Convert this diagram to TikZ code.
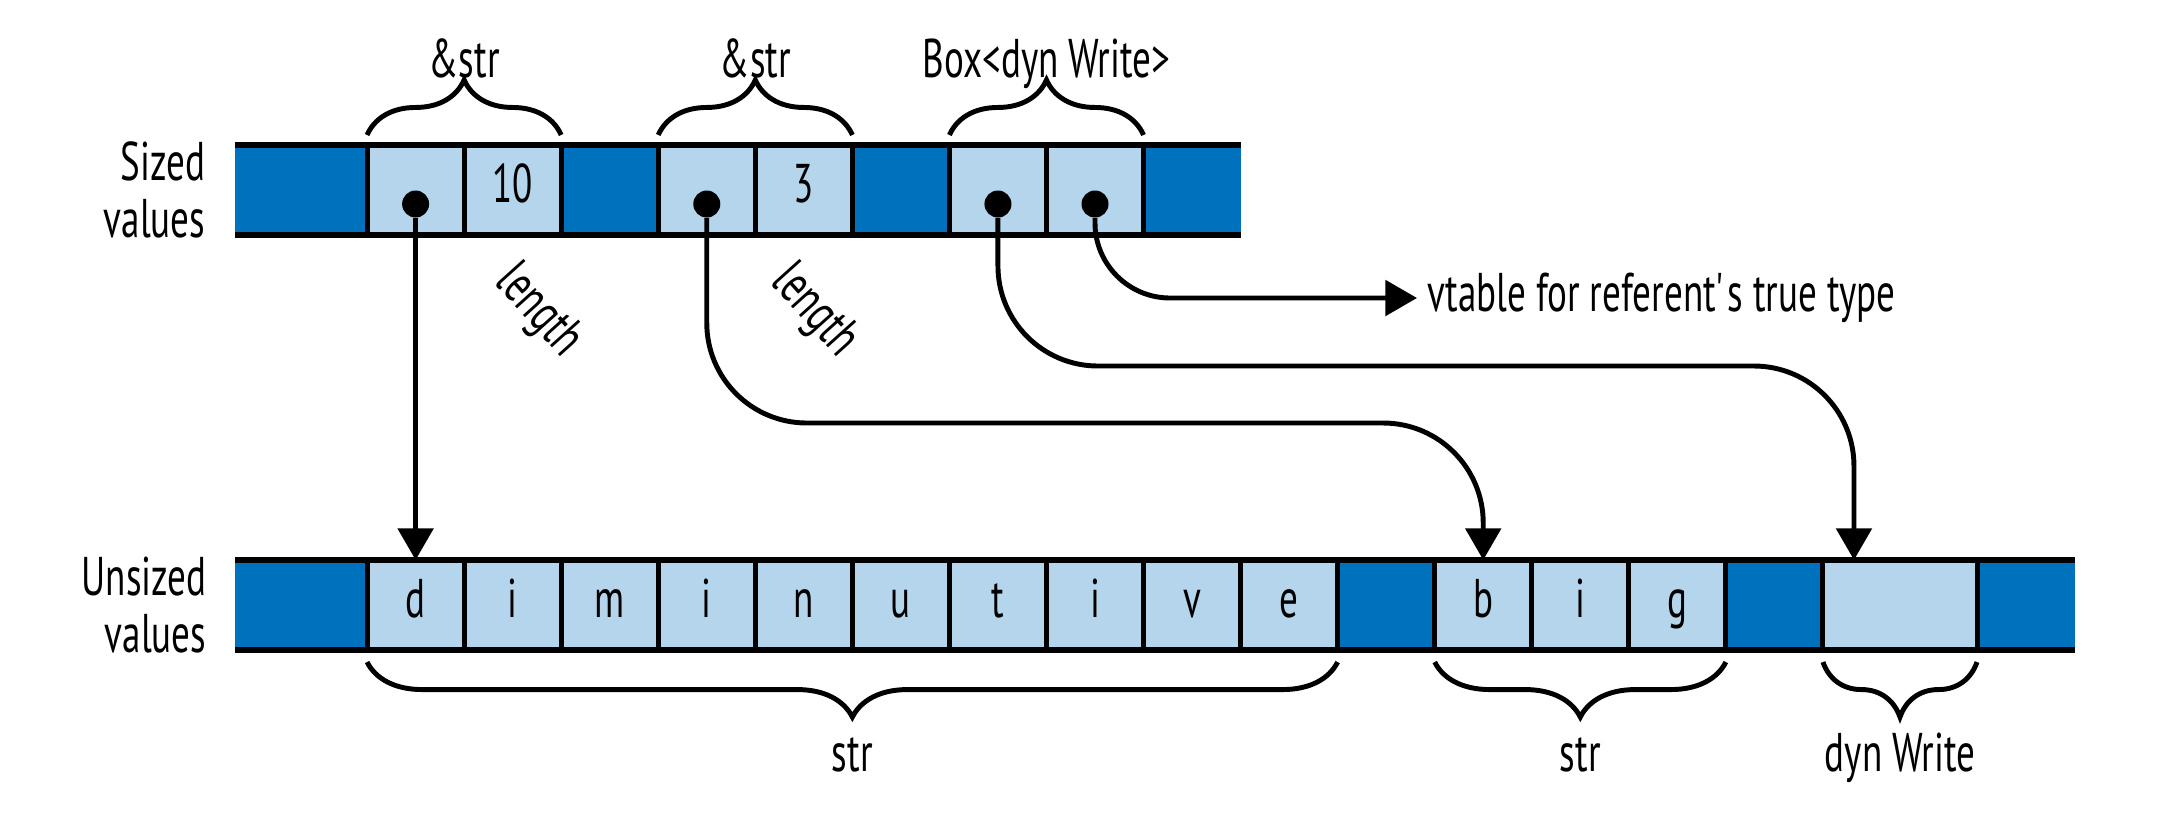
\documentclass[tikz,border=0pt]{standalone}
\usepackage{fontspec}
\setmainfont[FakeStretch=0.68]{PT Sans}
\usetikzlibrary{arrows.meta,positioning,calc,decorations.pathreplacing}
\definecolor{darkbl}{RGB}{0,113,188}
\definecolor{litebl}{RGB}{180,213,235}

\begin{document}
\begin{tikzpicture}[x=0.01cm,y=-0.01cm,>={Triangle[length=9pt,width=10pt]},
  font=\fontsize{15.5}{16}\selectfont,
  cell/.style={minimum width=0.97cm,minimum height=0.9cm,inner sep=0pt,outer sep=0pt,text height=0.7em,text depth=0pt},
  lite/.style={cell,fill=litebl},
  dark/.style={cell,fill=darkbl},
  sep/.style={line width=1.4pt},
  rail/.style={line width=1.8pt},
  ptr/.style={->,line width=1.4pt},
  dot/.style={circle,fill,inner sep=0pt,minimum size=0.27cm},
  lbl/.style={text height=0.72em,text depth=0.2em},
  brc/.style={decorate,decoration={brace,amplitude=0.55cm},line width=1.4pt},
  brcdown/.style={decorate,decoration={brace,amplitude=0.55cm,mirror},line width=1.4pt}]
\useasboundingbox (0,0) rectangle (2158,814);
% sized values
\node[dark,minimum width=1.32cm,anchor=west] (s0) at (235,190) {};
\node[lite,right=0pt of s0] (s1) {};
\node[lite,right=0pt of s1] (s2) {10};
\node[dark,right=0pt of s2] (s3) {};
\node[lite,right=0pt of s3] (s4) {};
\node[lite,right=0pt of s4] (s5) {3};
\node[dark,right=0pt of s5] (s6) {};
\node[lite,right=0pt of s6] (s7) {};
\node[lite,right=0pt of s7] (s8) {};
\node[dark,right=0pt of s8] (s9) {};
\foreach \i in {1,...,9} \draw[sep] (s\i.north west) -- (s\i.south west);
\draw[rail] (s0.north west) -- (s9.north east);
\draw[rail] (s0.south west) -- (s9.south east);
\node[anchor=east,align=right,inner sep=0pt] (sl) at (206,190) {Sized\\values};
\foreach \i in {1,4,7,8} \node[dot] (p\i) at ([yshift=-0.14cm]s\i.center) {};
\draw[brc] ([yshift=0.1cm]s1.north west) -- ([yshift=0.1cm]s2.north east) node[lbl,midway,above=0.36cm] (b1) {\&str};
\draw[brc] ([yshift=0.1cm]s4.north west) -- ([yshift=0.1cm]s5.north east) node[lbl,midway,above=0.36cm] (b2) {\&str};
\draw[brc] ([yshift=0.1cm]s7.north west) -- ([yshift=0.1cm]s8.north east) node[lbl,midway,above=0.36cm] (b3) {Box<dyn Write>};
\node[rotate=-48] (ln1) at (538,312) {length};
\node[rotate=-48] (ln2) at (814,312) {length};
% unsized values
\node[dark,minimum width=1.32cm,anchor=west] (u0) at (235,605) {};
\foreach \c [count=\i,evaluate=\i as \j using int(\i-1)] in {d,i,m,i,n,u,t,i,v,e}
  \node[lite,right=0pt of u\j] (u\i) {\c};
\node[dark,right=0pt of u10] (u11) {};
\node[lite,right=0pt of u11] (u12) {b};
\node[lite,right=0pt of u12] (u13) {i};
\node[lite,right=0pt of u13] (u14) {g};
\node[dark,right=0pt of u14] (u15) {};
\node[lite,minimum width=1.54cm,right=0pt of u15] (u16) {};
\node[dark,minimum width=0.98cm,right=0pt of u16] (u17) {};
\foreach \i in {1,...,17} \draw[sep] (u\i.north west) -- (u\i.south west);
\draw[rail] (u0.north west) -- (u17.north east);
\draw[rail] (u0.south west) -- (u17.south east);
\node[anchor=east,align=right,inner sep=0pt] (ul) at (207,605) {Unsized\\values};
\draw[brcdown] ([yshift=-0.12cm]u1.south west) -- ([yshift=-0.12cm]u10.south east) node[lbl,midway,below=0.7cm] (d1) {str};
\draw[brcdown] ([yshift=-0.12cm]u12.south west) -- ([yshift=-0.12cm]u14.south east) node[lbl,midway,below=0.7cm] (d2) {str};
\draw[brcdown] ([yshift=-0.12cm]u16.south west) -- ([yshift=-0.12cm]u16.south east) node[lbl,midway,below=0.7cm] (d3) {dyn Write};
% pointers
\coordinate (h2) at (0,423);
\coordinate (h3) at (0,366);
\coordinate (w) at ($(u16.north)+(-46,0)$);
\node[anchor=west,inner sep=0.1cm] (vt) at (1417,298) {vtable for referent\textquotesingle s true type};
\draw[ptr] (p1) -- (u1.north);
\draw[ptr,rounded corners=1cm] (p4) -- (p4 |- h2) -- (u12.north |- h2) -- (u12.north);
\draw[ptr,rounded corners=1cm] (p7) -- (p7 |- h3) -- (w |- h3) -- (w);
\draw[ptr,rounded corners=0.75cm] (p8) |- (vt.west);
\end{tikzpicture}
\end{document}
